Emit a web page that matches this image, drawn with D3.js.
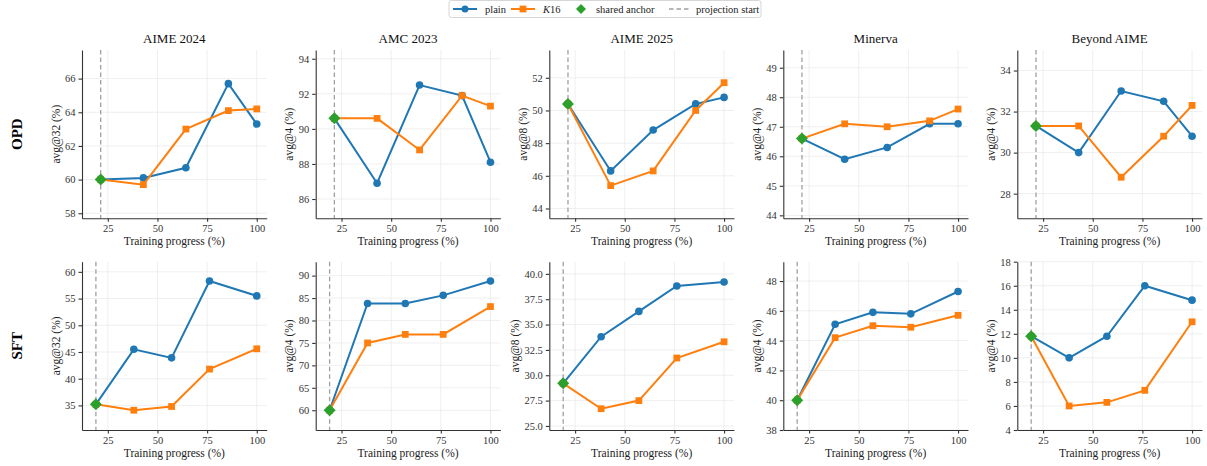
<!DOCTYPE html>
<html>
<head>
<meta charset="utf-8">
<script src="https://cdn.jsdelivr.net/npm/d3@7"></script>
<style>
  body { margin: 0; background: #fff; }
  svg text { font-family: "Liberation Serif", "DejaVu Serif", serif; fill: #222; }
  .grid line { stroke: #ebebeb; stroke-width: 0.8; }
  .axis path, .axis line { stroke: #333; stroke-width: 1.1; }
  .axis text { font-size: 10.5px; fill: #333; }
</style>
</head>
<body>
<svg id="chart" width="1207" height="466"></svg>
<script>
// benchmarks (columns) and y labels
var benchmarks = ["AIME 2024", "AMC 2023", "AIME 2025", "Minerva", "Beyond AIME"];
var metrics = ["avg@32 (%)", "avg@4 (%)", "avg@8 (%)", "avg@4 (%)", "avg@4 (%)"];
var rowNames = ["OPD", "SFT"];

// training progress (%) for each row
var opdProgress = [21.4, 42.9, 64.3, 85.7, 100];
var sftProgress = [19.0, 38.1, 57.1, 76.2, 100];
var xTicks = [25, 50, 75, 100];

// OPD row values
var opdPlain = [
  [60.0, 60.1, 60.7, 65.7, 63.3],
  [90.6, 86.9, 92.5, 91.9, 88.1],
  [50.4, 46.3, 48.8, 50.4, 50.8],
  [46.6, 45.9, 46.3, 47.1, 47.1],
  [31.3, 30.0, 33.0, 32.5, 30.8]
];
var opdK16 = [
  [60.0, 59.7, 63.0, 64.1, 64.2],
  [90.6, 90.6, 88.8, 91.9, 91.3],
  [50.4, 45.4, 46.3, 50.0, 51.7],
  [46.6, 47.1, 47.0, 47.2, 47.6],
  [31.3, 31.3, 28.8, 30.8, 32.3]
];
// SFT row values
var sftPlain = [
  [35.2, 45.5, 43.9, 58.3, 55.5],
  [60.0, 83.8, 83.8, 85.6, 88.8],
  [29.2, 33.8, 36.3, 38.8, 39.2],
  [40.0, 45.1, 45.9, 45.8, 47.3],
  [11.8, 10.0, 11.8, 16.0, 14.8]
];
var sftK16 = [
  [35.2, 34.1, 34.8, 41.8, 45.6],
  [60.0, 75.0, 76.9, 76.9, 83.1],
  [29.2, 26.7, 27.5, 31.7, 33.3],
  [40.0, 44.2, 45.0, 44.9, 45.7],
  [11.8, 6.0, 6.3, 7.3, 13.0]
];

// y ticks and limits per panel
var opdYTicks = [
  [58, 60, 62, 64, 66],
  [86, 88, 90, 92, 94],
  [44, 46, 48, 50, 52],
  [44, 45, 46, 47, 48, 49],
  [28, 30, 32, 34]
];
var opdYLim = [[57.7, 67.7], [84.9, 94.5], [43.4, 53.7], [43.9, 49.6], [26.8, 35.0]];
var sftYTicks = [
  [35, 40, 45, 50, 55, 60],
  [60, 65, 70, 75, 80, 85, 90],
  [25, 27.5, 30, 32.5, 35, 37.5, 40],
  [38, 40, 42, 44, 46, 48],
  [4, 6, 8, 10, 12, 14, 16, 18]
];
var sftYLim = [[30.4, 61.9], [55.6, 93.1], [24.6, 41.2], [38, 49.3], [4, 18]];
var xLim = [12, 105];

var colors = { plain: "#1f77b4", k16: "#ff7f0e", anchor: "#2ca02c", proj: "#a0a0a0" };

var svg = d3.select("#chart");

var panelLeft = [82, 315.7, 549.3, 783.3, 1017.3];
var panelW = 184.7;
var rowTop = [50, 261.7];
var panelH = 168.3;

var rows = [
  { progress: opdProgress, plain: opdPlain, k16: opdK16, ticks: opdYTicks, lim: opdYLim },
  { progress: sftProgress, plain: sftPlain, k16: sftK16, ticks: sftYTicks, lim: sftYLim }
];

// matplotlib style "D" marker: square turned 45 degrees
var diamondPath = "M0,-6L6,0L0,6L-6,0Z";
var square = d3.symbol().type(d3.symbolSquare).size(46);

rows.forEach(function(row, r) {
  // row label
  svg.append("text")
    .attr("transform", "translate(22," + (rowTop[r] + panelH / 2) + ") rotate(-90)")
    .attr("text-anchor", "middle")
    .style("font-size", "15px")
    .style("font-weight", "bold")
    .style("fill", "#000")
    .text(rowNames[r]);

  benchmarks.forEach(function(name, c) {
    var g = svg.append("g")
      .attr("transform", "translate(" + panelLeft[c] + "," + rowTop[r] + ")");
    var x = d3.scaleLinear().domain(xLim).range([0, panelW]);
    var y = d3.scaleLinear().domain(row.lim[c]).range([panelH, 0]);
    var fmt = (c == 2 && r == 1) ? d3.format(".1f") : d3.format("d");

    // grid
    var grid = g.append("g").attr("class", "grid");
    grid.selectAll(".gx").data(xTicks).enter().append("line")
      .attr("x1", function(d) { return x(d); }).attr("x2", function(d) { return x(d); })
      .attr("y1", 0).attr("y2", panelH);
    grid.selectAll(".gy").data(row.ticks[c]).enter().append("line")
      .attr("x1", 0).attr("x2", panelW)
      .attr("y1", function(d) { return y(d); }).attr("y2", function(d) { return y(d); });

    // projection start
    g.append("line")
      .attr("x1", x(row.progress[0])).attr("x2", x(row.progress[0]))
      .attr("y1", 0).attr("y2", panelH)
      .attr("stroke", colors.proj).attr("stroke-width", 1.3)
      .attr("stroke-dasharray", "4.5,3");

    // axes
    g.append("g").attr("class", "axis")
      .attr("transform", "translate(0," + panelH + ")")
      .call(d3.axisBottom(x).tickValues(xTicks).tickSize(3.5).tickPadding(3).tickSizeOuter(0));
    var yAxis = g.append("g").attr("class", "axis")
      .call(d3.axisLeft(y).tickValues(row.ticks[c]).tickFormat(fmt).tickSize(3.5).tickPadding(3).tickSizeOuter(0));

    var line = d3.line()
      .x(function(d, i) { return x(row.progress[i]); })
      .y(function(d) { return y(d); });

    // plain
    g.append("path").datum(row.plain[c])
      .attr("fill", "none").attr("stroke", colors.plain).attr("stroke-width", 2)
      .attr("d", line);
    g.selectAll(".pt").data(row.plain[c]).enter().append("circle")
      .attr("cx", function(d, i) { return x(row.progress[i]); })
      .attr("cy", function(d) { return y(d); })
      .attr("r", 3.8).attr("fill", colors.plain);

    // K16
    g.append("path").datum(row.k16[c])
      .attr("fill", "none").attr("stroke", colors.k16).attr("stroke-width", 2)
      .attr("d", line);
    g.selectAll(".sq").data(row.k16[c]).enter().append("path")
      .attr("d", square)
      .attr("transform", function(d, i) { return "translate(" + x(row.progress[i]) + "," + y(d) + ")"; })
      .attr("fill", colors.k16);

    // shared anchor
    g.append("path")
      .attr("d", diamondPath)
      .attr("transform", "translate(" + x(row.progress[0]) + "," + y(row.plain[c][0]) + ")")
      .attr("fill", colors.anchor);

    // labels
    if (r == 0) {
      g.append("text")
        .attr("x", panelW / 2).attr("y", -7)
        .attr("text-anchor", "middle")
        .style("font-size", "13px")
        .style("fill", "#111")
        .text(name);
    }
    g.append("text")
      .attr("x", panelW / 2).attr("y", panelH + 27)
      .attr("text-anchor", "middle")
      .style("font-size", "11.5px")
      .text("Training progress (%)");

    // y label sits left of the widest tick label
    var tw = yAxis.node().getBBox().width;
    g.append("text")
      .attr("transform", "translate(" + (-tw - 5) + "," + (panelH / 2) + ") rotate(-90)")
      .attr("text-anchor", "middle")
      .style("font-size", "11.5px")
      .text(metrics[c]);
  });
});

// legend
var lg = svg.append("g").attr("transform", "translate(449,0.5)");
lg.append("rect").attr("x", 0).attr("y", 0).attr("width", 312).attr("height", 17)
  .attr("rx", 2.5).attr("fill", "#fff").attr("stroke", "#ccc").attr("stroke-width", 0.8);
var ly = 8.5;
lg.append("line").attr("x1", 4).attr("x2", 28).attr("y1", ly).attr("y2", ly)
  .attr("stroke", colors.plain).attr("stroke-width", 2);
lg.append("circle").attr("cx", 16).attr("cy", ly).attr("r", 3.5).attr("fill", colors.plain);
lg.append("text").attr("x", 36).attr("y", ly + 3.5).style("font-size", "10.5px").text("plain");

lg.append("line").attr("x1", 62).attr("x2", 86).attr("y1", ly).attr("y2", ly)
  .attr("stroke", colors.k16).attr("stroke-width", 2);
lg.append("path").attr("d", square).attr("transform", "translate(74," + ly + ")").attr("fill", colors.k16);
var kt = lg.append("text").attr("x", 94).attr("y", ly + 3.5).style("font-size", "10.5px");
kt.append("tspan").style("font-style", "italic").text("K");
kt.append("tspan").text("16");

lg.append("path").attr("d", "M0,-5L5,0L0,5L-5,0Z").attr("transform", "translate(132," + ly + ")").attr("fill", colors.anchor);
lg.append("text").attr("x", 147).attr("y", ly + 3.5).style("font-size", "10.5px").text("shared anchor");

lg.append("line").attr("x1", 220).attr("x2", 240).attr("y1", ly).attr("y2", ly)
  .attr("stroke", colors.proj).attr("stroke-width", 1.3).attr("stroke-dasharray", "4.5,3");
lg.append("text").attr("x", 247).attr("y", ly + 3.5).style("font-size", "10.5px").text("projection start");
</script>
</body>
</html>
